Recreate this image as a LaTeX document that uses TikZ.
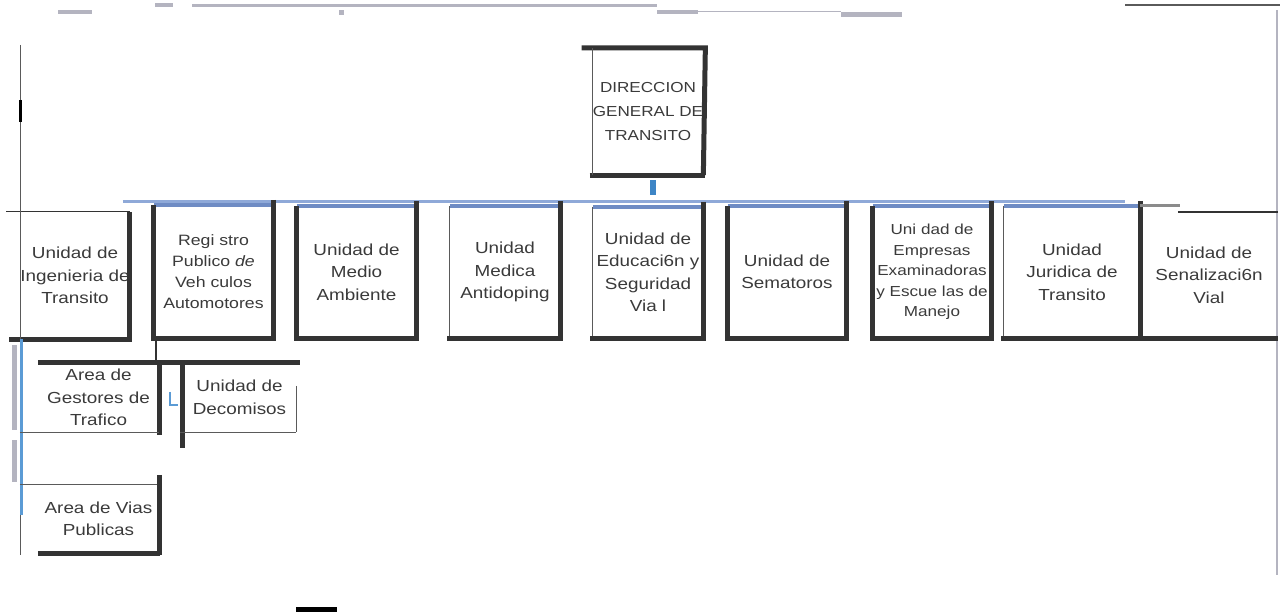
\documentclass[tikz,border=0pt]{standalone}
\usepackage{fontspec}
\setmainfont{Liberation Sans}[FakeStretch=1.18]
\usepackage{xcolor}
\usepackage{tikz}
\definecolor{linedark}{HTML}{333333}
\definecolor{linegray}{HTML}{5A5A5A}
\definecolor{topblue}{HTML}{6F8CC4}
\definecolor{busblue}{HTML}{8FA9D8}
\definecolor{linkblue}{HTML}{3D85C6}
\definecolor{spineblue}{HTML}{5B9BD5}
\definecolor{txtgray}{HTML}{3A3A3A}
\definecolor{scanmark}{HTML}{B4B4C0}
\tikzstyle{unit} = [rectangle, inner sep=0pt, align=center, text=txtgray, font=\fontsize{16}{22.5}\selectfont]
\tikzstyle{boldedge} = [line width=5pt, draw=linedark]
\tikzstyle{thinedge} = [line width=1.3pt, draw=linegray]
\tikzstyle{bluetop} = [line width=4pt, draw=topblue]
\tikzstyle{bus} = [line width=3pt, draw=busblue]

\begin{document}
\begin{tikzpicture}[x=1pt, y=-1pt]
	\useasboundingbox (0,0) rectangle (1280,612);
	
	% scanner marks along the page edges
	\fill[scanmark] (58,10) rectangle (92,14);
	\fill[scanmark] (155,3) rectangle (173,7);
	\fill[scanmark] (192,4) rectangle (657,7);
	\fill[scanmark] (339,10) rectangle (344,15);
	\fill[scanmark] (657,10) rectangle (698,14);
	\fill[scanmark] (698,11) rectangle (841,12.5);
	\fill[scanmark] (841,12) rectangle (902,17);
	\fill[linegray] (1125,4) rectangle (1280,6);
	\fill[black] (296,607) rectangle (337,612);
	\draw[thinedge, draw=scanmark] (1277,10) -- (1277,575);
	
	\node (dg) [unit, minimum width=110pt, minimum height=127pt, font=\fontsize{14.5}{24}\selectfont] at (648,111.5) {DIRECCION\\GENERAL DE\\TRANSITO};
	
	\node (ing) [unit, minimum width=108pt, minimum height=127pt] at (75,275.5) {Unidad de\\Ingenieria de\\Transito};
	\node (reg) [unit, minimum width=119pt, minimum height=133pt, font=\fontsize{15}{21}\selectfont] at (213.5,271.5) {Regi stro\\Publico \textit{de}\\Veh culos\\Automotores};
	\node (amb) [unit, minimum width=119pt, minimum height=132pt] at (356.5,272) {Unidad de\\Medio\\Ambiente};
	\node (med) [unit, minimum width=110pt, minimum height=132pt] at (505,272) {Unidad\\Medica\\Antidoping};
	\node (edu) [unit, minimum width=110pt, minimum height=131pt] at (648,272.5) {Unidad de\\Educaci6n y\\Seguridad\\Via l};
	\node (sem) [unit, minimum width=118pt, minimum height=132pt] at (787,272) {Unidad de\\Sematoros};
	\node (emp) [unit, minimum width=118pt, minimum height=132pt, font=\fontsize{14.5}{20.5}\selectfont] at (932,272) {Uni dad de\\Empresas\\Examinadoras\\y Escue las de\\Manejo};
	\node (jur) [unit, minimum width=136pt, minimum height=132pt] at (1072,272) {Unidad\\Juridica de\\Transito};
	\node (sen) [unit, minimum width=138pt, minimum height=126pt] at (1209,275) {Unidad de\\Senalizaci6n\\Vial};
	
	\node (gest) [unit, minimum width=121pt, minimum height=69pt] at (98.5,397.5) {Area de\\Gestores de\\Trafico};
	\node (deco) [unit, minimum width=113pt, minimum height=69pt] at (239.5,397.5) {Unidad de\\Decomisos};
	\node (vias) [unit, minimum width=121pt, minimum height=68pt] at (98.5,519) {Area de Vias\\Publicas};
	
	% head box
	\draw[boldedge] ([shift={(-11,0)}]dg.north west) -- ([shift={(2,0)}]dg.north east) -- (dg.south east);
	\draw[boldedge] ([shift={(-3,0)}]dg.south west) -- ([shift={(2,0)}]dg.south east);
	\draw[thinedge] (dg.north west) -- (dg.south west);
	\draw[line width=6pt, draw=linkblue] ([shift={(5,5)}]dg.south) -- ([shift={(5,20)}]dg.south);
	
	% line joining the units
	\draw[bus] ([shift={(-31,-3)}]reg.north west) -- ([shift={(-15,-4)}]jur.north east);
	
	\foreach \b/\side in {reg/boldedge, amb/boldedge, med/thinedge, edu/thinedge, sem/boldedge, emp/boldedge, jur/thinedge}
	{
		\draw[bluetop] (\b.north west) -- (\b.north east);
		\draw[\side] (\b.north west) -- (\b.south west);
		\draw[boldedge] ([shift={(0,-5)}]\b.north east) -- (\b.south east) -- ([shift={(-3,0)}]\b.south west);
	}
	
	% first and last units
	\draw[thinedge, draw=linedark] ([shift={(-14,0)}]ing.north west) -- (ing.north east);
	\draw[boldedge] (ing.north east) -- (ing.south east) -- ([shift={(-11,0)}]ing.south west);
	\draw[line width=3pt, draw=linegray!70] ([shift={(0,-6)}]sen.north west) -- ([shift={(40,-6)}]sen.north west);
	\draw[thinedge, draw=linedark, line width=2pt] ([shift={(38,0)}]sen.north west) -- (sen.north east);
	\draw[boldedge] ([shift={(9,0)}]jur.south west) -- (sen.south east);
	
	% left margin line
	\draw[thinedge] ([shift={(0,-167)}]ing.north west) -- ([shift={(0,216)}]ing.south west);
	\draw[line width=3pt, draw=black] ([shift={(0,-112)}]ing.north west) -- ++(0,22);
	\draw[line width=3pt, draw=spineblue] ([shift={(1,0)}]ing.south west) -- ([shift={(1,176)}]ing.south west);
	\draw[line width=5pt, draw=scanmark] ([shift={(-6,6)}]ing.south west) -- ++(0,85);
	\draw[line width=5pt, draw=scanmark] ([shift={(-6,101)}]ing.south west) -- ++(0,42);
	
	% areas under the register
	\draw[thinedge, draw=linedark, line width=2pt] ([shift={(2,0)}]reg.south west) -- ([shift={(2,0)}]reg.south west |- gest.north);
	\draw[boldedge] (gest.north west) -- ([shift={(4,0)}]deco.north east);
	\draw[boldedge] (gest.north east) -- ([shift={(0,3)}]gest.south east);
	\draw[thinedge] ([shift={(-18,0)}]gest.south west) -- (gest.south east);
	\draw[boldedge] (deco.north west) -- ([shift={(0,16)}]deco.south west);
	\draw[thinedge] ([shift={(0,23)}]deco.north east) -- (deco.south east);
	\draw[thinedge] ([shift={(-3,0)}]deco.south west) -- (deco.south east);
	\draw[line width=1.5pt, draw=spineblue] ([shift={(-13,29)}]deco.north west) -- ++(0,13) -- ++(8,0);
	
	\draw[thinedge] ([shift={(-18,0)}]vias.north west) -- (vias.north east);
	\draw[boldedge] ([shift={(0,-10)}]vias.north east) -- ([shift={(0,2)}]vias.south east);
	\draw[boldedge] (vias.south west) -- ([shift={(1,0)}]vias.south east);
	
\end{tikzpicture}
\end{document}
